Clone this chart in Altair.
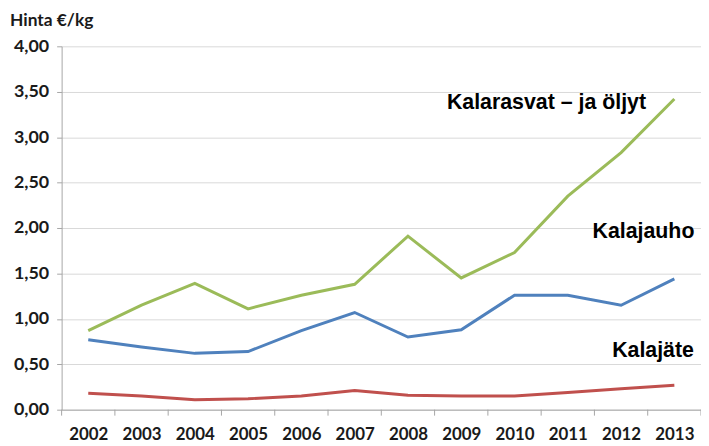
import altair as alt
import pandas as pd

years = list(range(2002, 2014))
kalarasvat = [0.87, 1.15, 1.39, 1.11, 1.26, 1.38, 1.91, 1.45, 1.73, 2.35, 2.83, 3.42]
kalajauho = [0.77, 0.69, 0.62, 0.64, 0.87, 1.07, 0.80, 0.88, 1.26, 1.26, 1.15, 1.44]
kalajate = [0.18, 0.15, 0.11, 0.12, 0.15, 0.21, 0.16, 0.15, 0.15, 0.19, 0.23, 0.27]

series_names = ["Kalarasvat – ja öljyt", "Kalajauho", "Kalajäte"]
series_colors = ["#9BBB59", "#4F81BD", "#C0504D"]

label_texts = ["Kalarasvat – ja öljyt", "Kalajauho", "Kalajäte"]
label_x = [2010.6, 2012.42, 2012.6]
label_y = [3.37, 1.96, 0.645]

y_ticks = [0, 0.5, 1.0, 1.5, 2.0, 2.5, 3.0, 3.5, 4.0]
boundaries = [y - 0.5 for y in years] + [years[-1] + 0.5]

rows = []
for name, vals in zip(series_names, [kalarasvat, kalajauho, kalajate]):
    for yr, v in zip(years, vals):
        rows.append({"Vuosi": yr, "Hinta": v, "Sarja": name})
df = pd.DataFrame(rows)
labels_df = pd.DataFrame({"t": label_texts, "x": label_x, "y": label_y})
bound_df = pd.DataFrame({"b": boundaries})

AX_FONT = "Lato"
W, H = 644, 366

xscale = alt.Scale(domain=[2001.5, 2013.5], nice=False, zero=False)
yscale = alt.Scale(domain=[0, 4], nice=False)

lines = alt.Chart(df).mark_line(strokeWidth=3).encode(
    x=alt.X("Vuosi:Q", scale=xscale,
            axis=alt.Axis(values=years, format="d", tickSize=0, grid=False,
                          domainColor="#A6A6A6", labelFont=AX_FONT, labelFontSize=17,
                          labelFontWeight="bold", labelColor="#1a1a1a",
                          labelPadding=17, title=None, labelFlush=False)),
    y=alt.Y("Hinta:Q", scale=yscale,
            axis=alt.Axis(values=y_ticks,
                          labelExpr="replace(format(datum.value, '.2f'), '.', ',')",
                          grid=True, gridColor="#D9D9D9", domainColor="#A6A6A6",
                          tickColor="#A6A6A6", tickSize=5, labelFont=AX_FONT,
                          labelFontSize=18, labelFontWeight="bold", labelColor="#1a1a1a",
                          labelPadding=8, title=None)),
    color=alt.Color("Sarja:N", scale=alt.Scale(domain=series_names, range=series_colors),
                    legend=None),
)

ticks = alt.Chart(bound_df).mark_rule(color="#A6A6A6", strokeWidth=1).encode(
    x=alt.X("b:Q", scale=xscale),
    y=alt.value(H),
    y2=alt.value(H + 6),
)

texts = alt.Chart(labels_df).mark_text(
    font="Liberation Sans", fontWeight="bold", fontSize=21.5, color="#000000",
    align="center", baseline="middle"
).encode(
    x=alt.X("x:Q", scale=xscale),
    y=alt.Y("y:Q", scale=yscale),
    text="t:N",
)

chart = alt.layer(lines, ticks, texts).properties(
    width=W, height=H,
    title=alt.TitleParams("Hinta €/kg", anchor="start", frame="group", dx=-52, offset=8,
                          font=AX_FONT, fontSize=17.5, fontWeight="bold", color="#1a1a1a"),
    autosize=alt.AutoSizeParams(type="none"),
    padding={"left": 54, "top": 37, "right": 0, "bottom": 35},
).configure_view(stroke=None)

chart.save("out.html", embed_options={"renderer": "svg", "actions": False})
